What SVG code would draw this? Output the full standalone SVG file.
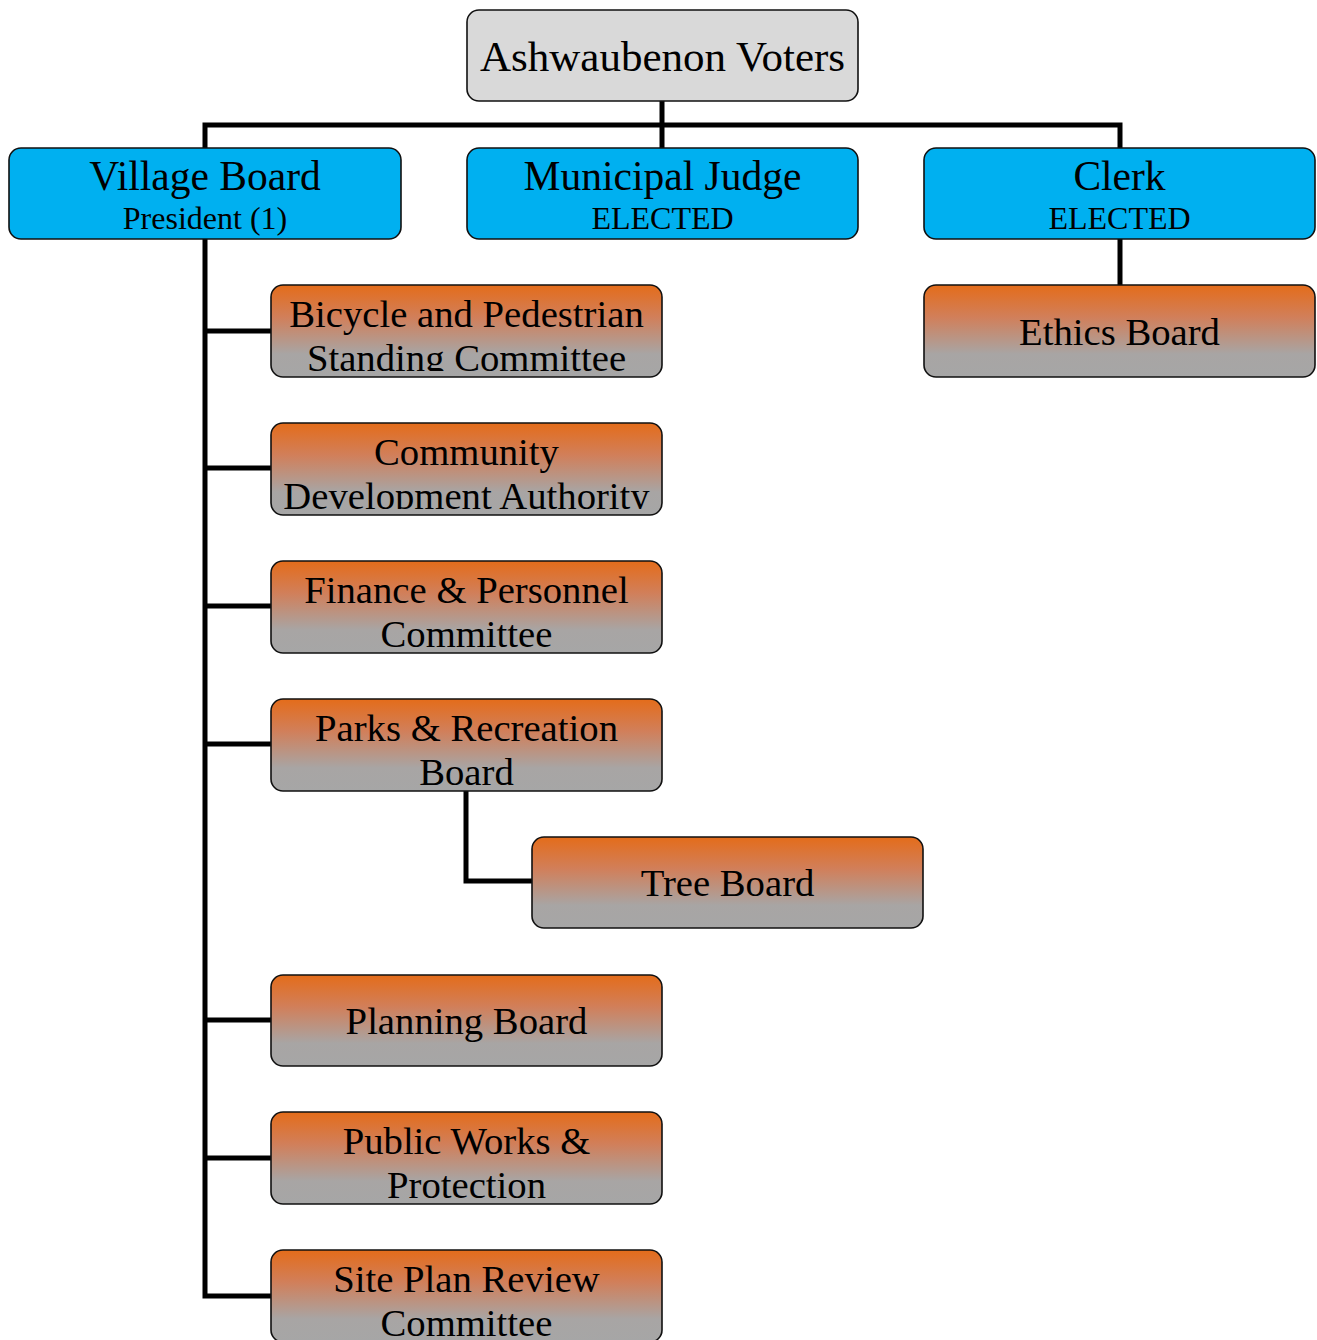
<svg xmlns="http://www.w3.org/2000/svg" width="1317" height="1340" viewBox="0 0 1317 1340">
<defs>
<linearGradient id="og" x1="0" y1="0" x2="0" y2="1">
<stop offset="0" stop-color="#e46c1a"/>
<stop offset="0.35" stop-color="#d17f5a"/>
<stop offset="0.75" stop-color="#a8a5a4"/>
<stop offset="1" stop-color="#a6a6a6"/>
</linearGradient>
<clipPath id="c1"><rect x="271" y="285" width="391" height="86"/></clipPath>
<clipPath id="c2"><rect x="271" y="423" width="391" height="86"/></clipPath>
<clipPath id="c7"><rect x="271" y="1250" width="391" height="86"/></clipPath>
</defs>
<style>
.box{stroke:#111;stroke-width:1.6}
.grey{fill:#d9d9d9}
.blue{fill:#00b0f0}
.org{fill:url(#og)}
text{font-family:"Liberation Serif","Times New Roman",serif;fill:#000;text-anchor:middle}
.t0{font-size:43px}
.t1{font-size:41.5px}
.t2{font-size:32px}
.t3{font-size:38.7px}
.con{fill:none;stroke:#000;stroke-width:5}
</style>
<g id="connectors">
<path class="con" d="M662 101V125M205 148V125H1120V148M662 125V148"/>
<path class="con" d="M205 239V1296H271M205 331H271M205 468H271M205 606H271M205 744H271M205 1020H271M205 1158H271"/>
<path class="con" d="M1120 239V285"/>
<path class="con" d="M466 791V881H532"/>
</g>
<g id="voters"><rect class="box grey" x="467" y="10" width="391" height="91" rx="12"/><text class="t0" x="662.5" y="71">Ashwaubenon Voters</text></g>
<g id="village-board"><rect class="box blue" x="9" y="148" width="392" height="91" rx="12"/><text class="t1" x="205" y="190">Village Board</text><text class="t2" x="205" y="229">President (1)</text></g>
<g id="municipal-judge"><rect class="box blue" x="467" y="148" width="391" height="91" rx="12"/><text class="t1" x="662.5" y="190">Municipal Judge</text><text class="t2" x="662.5" y="229">ELECTED</text></g>
<g id="clerk"><rect class="box blue" x="924" y="148" width="391" height="91" rx="12"/><text class="t1" x="1119.5" y="190">Clerk</text><text class="t2" x="1119.5" y="229">ELECTED</text></g>
<g id="ethics"><rect class="box org" x="924" y="285" width="391" height="92" rx="12"/><text class="t3" x="1119.5" y="345">Ethics Board</text></g>
<g id="bicycle"><rect class="box org" x="271" y="285" width="391" height="92" rx="12"/><g clip-path="url(#c1)"><text class="t3" x="466.5" y="327">Bicycle and Pedestrian</text><text class="t3" x="466.5" y="371">Standing Committee</text></g></g>
<g id="cda"><rect class="box org" x="271" y="423" width="391" height="92" rx="12"/><g clip-path="url(#c2)"><text class="t3" x="466.5" y="465">Community</text><text class="t3" x="466.5" y="509">Development Authority</text></g></g>
<g id="finance"><rect class="box org" x="271" y="561" width="391" height="92" rx="12"/><text class="t3" x="466.5" y="603">Finance &amp; Personnel</text><text class="t3" x="466.5" y="647">Committee</text></g>
<g id="parks"><rect class="box org" x="271" y="699" width="391" height="92" rx="12"/><text class="t3" x="466.5" y="741">Parks &amp; Recreation</text><text class="t3" x="466.5" y="785">Board</text></g>
<g id="tree"><rect class="box org" x="532" y="837" width="391" height="91" rx="12"/><text class="t3" x="727.5" y="896">Tree Board</text></g>
<g id="planning"><rect class="box org" x="271" y="975" width="391" height="91" rx="12"/><text class="t3" x="466.5" y="1034">Planning Board</text></g>
<g id="public-works"><rect class="box org" x="271" y="1112" width="391" height="92" rx="12"/><text class="t3" x="466.5" y="1154">Public Works &amp;</text><text class="t3" x="466.5" y="1198">Protection</text></g>
<g id="site-plan"><rect class="box org" x="271" y="1250" width="391" height="92" rx="12"/><g clip-path="url(#c7)"><text class="t3" x="466.5" y="1292">Site Plan Review</text><text class="t3" x="466.5" y="1336">Committee</text></g></g>
</svg>
